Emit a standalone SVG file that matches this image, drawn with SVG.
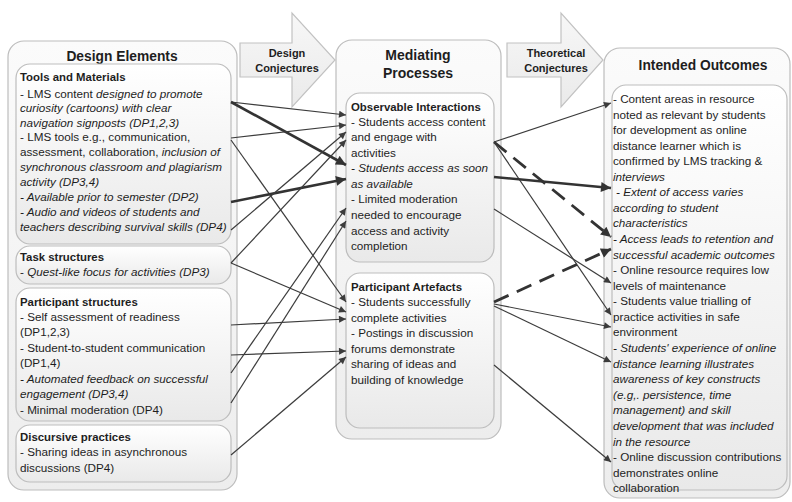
<svg xmlns="http://www.w3.org/2000/svg" width="792" height="502" viewBox="0 0 792 502">
<style>
text{font-family:"Liberation Sans",Arial,sans-serif;fill:#1e1e1e;}
.t{font-size:11.7px;}
.h{font-size:11.4px;font-weight:bold;}
.title{font-size:13.8px;font-weight:bold;text-anchor:middle;}
.al{font-size:11px;font-weight:bold;text-anchor:middle;}
.i{font-style:italic;}
.outer{fill:url(#gOuter);stroke:#bdbdbd;stroke-width:1.2;}
.inner{fill:url(#gInner);stroke:#bdbdbd;stroke-width:1.2;}
.barrow{fill:url(#gArrow);stroke:#c2c2c2;stroke-width:1.2;}
.c{stroke:#3c3c3c;stroke-width:1.2;fill:none;marker-end:url(#ah);}
.k{stroke:#333;stroke-width:2.6;fill:none;marker-end:url(#ahk);}
.d{stroke:#333;stroke-width:2.8;fill:none;stroke-dasharray:16 9;marker-end:url(#ahk);}
</style>
<defs>
<linearGradient id="gOuter" x1="0" y1="0" x2="0" y2="1"><stop offset="0" stop-color="#fbfbfb"/><stop offset="1" stop-color="#ededed"/></linearGradient>
<linearGradient id="gInner" x1="0" y1="0" x2="0" y2="1"><stop offset="0" stop-color="#ffffff"/><stop offset="1" stop-color="#e9e9e9"/></linearGradient>
<linearGradient id="gArrow" x1="0" y1="0" x2="0" y2="1"><stop offset="0" stop-color="#f7f7f7"/><stop offset="1" stop-color="#eaeaea"/></linearGradient>
<marker id="ah" viewBox="0 0 10 10" refX="10" refY="5" markerWidth="9" markerHeight="7" markerUnits="userSpaceOnUse" orient="auto"><path d="M0,0 L10,5 L0,10 z" fill="#3c3c3c"/></marker>
<marker id="ahk" viewBox="0 0 10 10" refX="10" refY="5" markerWidth="12" markerHeight="10" markerUnits="userSpaceOnUse" orient="auto"><path d="M0,0 L10,5 L0,10 z" fill="#333"/></marker>
</defs>

<g id="design-conjectures-arrow">
<polygon class="barrow" points="240,43 292,43 292,13 335,60 292,107 292,77 240,77"/>
<text class="al" x="287" y="57">Design</text>
<text class="al" x="287" y="72">Conjectures</text>
</g>
<g id="theoretical-conjectures-arrow">
<polygon class="barrow" points="507,43 561,43 561,13 603,60 561,107 561,77 507,77"/>
<text class="al" x="556" y="57">Theoretical</text>
<text class="al" x="556" y="72">Conjectures</text>
</g>

<g id="design-elements">
<rect class="outer" x="8" y="41" width="229" height="449" rx="16"/>
<text class="title" x="122" y="61">Design Elements</text>
<g id="tools-materials">
<rect class="inner" x="16" y="64" width="215" height="180" rx="14"/>
<text class="h" x="20" y="81">Tools and Materials</text>
<text class="t" x="20" y="98">- LMS content <tspan class="i">designed to promote</tspan></text>
<text class="t i" x="20" y="112">curiosity (cartoons) with clear</text>
<text class="t i" x="20" y="127">navigation signposts (DP1,2,3)</text>
<text class="t" x="20" y="141">- LMS tools e.g., communication,</text>
<text class="t" x="20" y="156">assessment, collaboration, <tspan class="i">inclusion of</tspan></text>
<text class="t i" x="20" y="171">synchronous classroom and plagiarism</text>
<text class="t i" x="20" y="186">activity (DP3,4)</text>
<text class="t i" x="20" y="201">- Available prior to semester (DP2)</text>
<text class="t i" x="20" y="216">- Audio and videos of students and</text>
<text class="t i" x="20" y="231">teachers describing survival skills (DP4)</text>
</g>
<g id="task-structures">
<rect class="inner" x="16" y="246" width="215" height="38" rx="14"/>
<text class="h" x="20" y="261">Task structures</text>
<text class="t" x="20" y="276">- <tspan class="i"> Quest-like focus for activities  (DP3)</tspan></text>
</g>
<g id="participant-structures">
<rect class="inner" x="16" y="288" width="215" height="133" rx="14"/>
<text class="h" x="20" y="306">Participant structures</text>
<text class="t" x="20" y="321">- Self assessment of readiness</text>
<text class="t" x="20" y="336">(DP1,2,3)</text>
<text class="t" x="20" y="352">- Student-to-student communication</text>
<text class="t" x="20" y="367">(DP1,4)</text>
<text class="t i" x="20" y="383">- Automated feedback on successful</text>
<text class="t i" x="20" y="398">engagement (DP3,4)</text>
<text class="t" x="20" y="414">- Minimal moderation (DP4)</text>
</g>
<g id="discursive-practices">
<rect class="inner" x="16" y="425" width="215" height="57" rx="14"/>
<text class="h" x="20" y="441">Discursive practices</text>
<text class="t" x="20" y="456">-  Sharing ideas in asynchronous</text>
<text class="t" x="20" y="472">discussions (DP4)</text>
</g>
</g>

<g id="mediating-processes">
<rect class="outer" x="336" y="40" width="165" height="399" rx="16"/>
<text class="title" x="418" y="60" style="font-size:14px">Mediating</text>
<text class="title" x="418" y="78" style="font-size:14px">Processes</text>
<g id="observable-interactions">
<rect class="inner" x="346" y="93" width="148" height="169" rx="14"/>
<text class="h" x="351" y="111">Observable Interactions</text>
<text class="t" x="351" y="126">- Students access content</text>
<text class="t" x="351" y="141">and engage with</text>
<text class="t" x="351" y="157">activities</text>
<text class="t i" x="351" y="172">- Students access as soon</text>
<text class="t i" x="351" y="188">as available</text>
<text class="t" x="351" y="203">- Limited moderation</text>
<text class="t" x="351" y="219">needed to encourage</text>
<text class="t" x="351" y="235">access and activity</text>
<text class="t" x="351" y="250">completion</text>
</g>
<g id="participant-artefacts">
<rect class="inner" x="346" y="273" width="148" height="155" rx="14"/>
<text class="h" x="351" y="291">Participant Artefacts</text>
<text class="t" x="351" y="306">- Students successfully</text>
<text class="t" x="351" y="322">complete activities</text>
<text class="t" x="351" y="337">- Postings in discussion</text>
<text class="t" x="351" y="353">forums demonstrate</text>
<text class="t" x="351" y="368">sharing of ideas and</text>
<text class="t" x="351" y="384">building of knowledge</text>
</g>
</g>

<g id="intended-outcomes">
<rect class="outer" x="604" y="48" width="186" height="450" rx="16"/>
<text class="title" x="703" y="70">Intended Outcomes</text>
<rect class="inner" x="612" y="85" width="175" height="405" rx="14"/>
<text class="t" x="613" y="103">- Content areas in resource</text>
<text class="t" x="613" y="118.5">noted as relevant  by students</text>
<text class="t" x="613" y="134">for development as online</text>
<text class="t" x="613" y="149.5">distance learner which is</text>
<text class="t" x="613" y="165">confirmed by LMS tracking &amp;</text>
<text class="t i" x="613" y="181">interviews</text>
<text class="t i" x="616" y="196">- Extent of access varies</text>
<text class="t i" x="613" y="212">according to student</text>
<text class="t i" x="613" y="227">characteristics</text>
<text class="t i" x="613" y="243">- Access leads to retention and</text>
<text class="t i" x="613" y="258.5">successful academic outcomes</text>
<text class="t" x="613" y="274">- Online resource requires low</text>
<text class="t" x="613" y="289.5">levels of maintenance</text>
<text class="t" x="613" y="305">- Students value trialling of</text>
<text class="t" x="613" y="321">practice activities in safe</text>
<text class="t" x="613" y="336">environment</text>
<text class="t i" x="613" y="352">- Students'  experience of online</text>
<text class="t i" x="613" y="368">distance learning illustrates</text>
<text class="t i" x="613" y="383">awareness of key constructs</text>
<text class="t i" x="613" y="399">(e.g,. persistence, time</text>
<text class="t i" x="613" y="414">management) and skill</text>
<text class="t i" x="613" y="430">development that was included</text>
<text class="t i" x="613" y="446">in the resource</text>
<text class="t" x="613" y="461">- Online discussion contributions</text>
<text class="t" x="613" y="477">demonstrates online</text>
<text class="t" x="613" y="492">collaboration</text>
</g>

<g id="connectors">
<line class="c" x1="231" y1="102" x2="346" y2="115"/>
<line class="k" x1="231" y1="102" x2="346" y2="165"/>
<line class="c" x1="231" y1="138" x2="346" y2="125"/>
<line class="c" x1="231" y1="140" x2="346" y2="302"/>
<line class="k" x1="231" y1="202" x2="346" y2="179"/>
<line class="c" x1="231" y1="230" x2="346" y2="132"/>
<line class="c" x1="231" y1="263" x2="346" y2="140"/>
<line class="c" x1="231" y1="263" x2="346" y2="312"/>
<line class="c" x1="231" y1="325" x2="346" y2="319"/>
<line class="c" x1="231" y1="355" x2="346" y2="351"/>
<line class="c" x1="231" y1="373" x2="346" y2="208"/>
<line class="c" x1="231" y1="403" x2="346" y2="221"/>
<line class="c" x1="231" y1="455" x2="346" y2="357"/>
<line class="c" x1="494" y1="142" x2="611" y2="103"/>
<line class="d" x1="494" y1="142" x2="611" y2="237"/>
<line class="c" x1="494" y1="142" x2="611" y2="315"/>
<line class="k" x1="494" y1="177" x2="611" y2="188"/>
<line class="c" x1="494" y1="209" x2="611" y2="283"/>
<line class="d" x1="494" y1="302" x2="611" y2="249"/>
<line class="c" x1="494" y1="304" x2="611" y2="327"/>
<line class="c" x1="494" y1="306" x2="611" y2="362"/>
<line class="c" x1="494" y1="365" x2="611" y2="462"/>
</g>
</svg>
